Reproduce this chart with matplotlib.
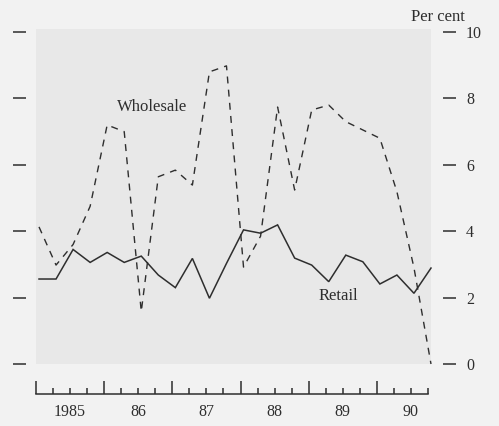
import matplotlib
matplotlib.use("Agg")
import matplotlib.pyplot as plt
import numpy as np

# Quarterly data, 1985 Q1 - 1990 Q4
retail = [2.56, 2.56, 3.45, 3.06, 3.36, 3.06, 3.25, 2.68, 2.30, 3.18, 1.98, 3.03,
          4.04, 3.94, 4.19, 3.19, 2.98, 2.48, 3.28, 3.08, 2.41, 2.68, 2.13, 2.89]
wholesale = [4.13, 2.98, 3.60, 4.75, 7.20, 7.00, 1.58, 5.64, 5.84, 5.39, 8.80, 8.98,
             2.92, 3.85, 7.74, 5.24, 7.65, 7.80, 7.30, 7.05, 6.80, 5.19, 2.90, 0.0]
years = [1985, 1986, 1987, 1988, 1989, 1990]
year_labels = ["1985", "86", "87", "88", "89", "90"]
y_ticks = [0, 2, 4, 6, 8, 10]

plt.rcParams['font.family'] = ['Liberation Serif', 'DejaVu Serif']
ink = '#2e2e2e'

fig = plt.figure(figsize=(4.99, 4.26), dpi=100, facecolor='#f2f2f2')
ax = fig.add_axes([36/499, 62/426, 395/499, 335.3/426], facecolor='#e8e8e8')

x0 = 1985.044
x = x0 + 0.25 * np.arange(len(retail))

ax.plot(x, retail, color=ink, lw=1.1, solid_joinstyle='miter', clip_on=False)
ax.plot(x, wholesale, color=ink, lw=1.0, dashes=(5, 4.5), clip_on=False)

ax.set_xlim(x[0], x[-1])
ax.set_ylim(0, 10.1)

# spines
for s in ['top', 'right', 'left']:
    ax.spines[s].set_visible(False)
ax.spines['bottom'].set_position(('outward', 21.6))
ax.spines['bottom'].set_bounds(1985, 1990.75)
ax.spines['bottom'].set_color(ink)
ax.spines['bottom'].set_linewidth(1.1)

# x ticks
ax.set_xticks(years, labels=[''] * len(years))
ax.set_xticks(np.arange(1985, 1990.76, 0.25), minor=True)
ax.tick_params(axis='x', which='major', direction='in', length=9.4, width=1.1, color=ink)
ax.tick_params(axis='x', which='minor', direction='in', length=4.3, width=1.1, color=ink)
for yr, lab in zip(years, year_labels):
    ax.annotate(lab, xy=(yr + 0.5, 0), xycoords=('data', 'axes fraction'),
                xytext=(0, -34.5), textcoords='offset points',
                ha='center', va='center', fontsize=11.5, color=ink)

# y ticks: left (no labels) and right (labels)
ax.set_yticks(y_ticks)
ax.tick_params(axis='y', which='both', left=True, right=True, labelleft=False,
               labelright=True, direction='out', length=9.4, width=1.1,
               color=ink, labelcolor=ink, labelsize=11.5, pad=7.2)
ax.spines['left'].set_position(('outward', 7.2))
ax.spines['right'].set_position(('outward', 8.6))

ax.text(x0 + (150 - 36) / 68.7, 7.74, 'Wholesale', ha='center', va='center',
        fontsize=12, color=ink)
ax.text(x0 + (338 - 36) / 68.7, 2.05, 'Retail', ha='center', va='center',
        fontsize=12, color=ink)

fig.text(465/499, 1 - 17/426, 'Per cent', ha='right', va='center',
         fontsize=12, color=ink)

fig.savefig('out.png', dpi=100, facecolor=fig.get_facecolor())
